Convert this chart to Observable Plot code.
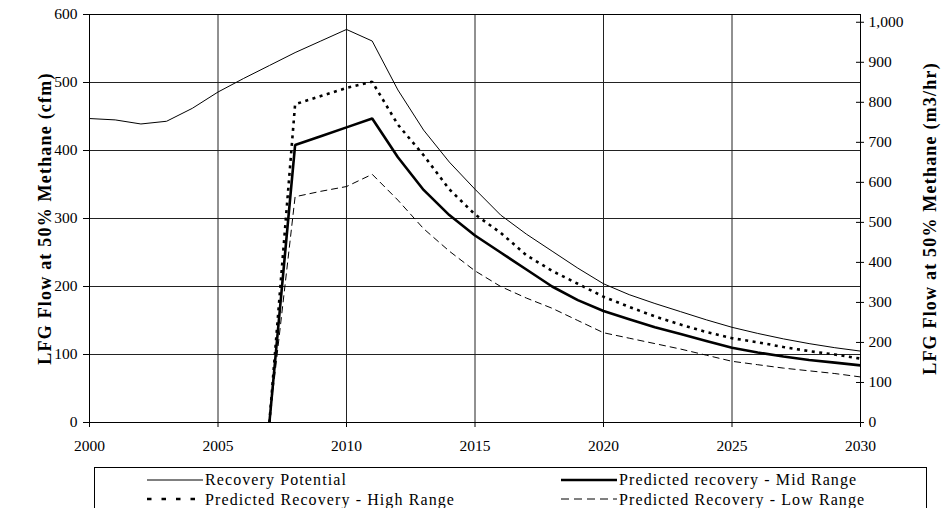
<!DOCTYPE html>
<html><head><meta charset="utf-8">
<script src="https://cdn.jsdelivr.net/npm/d3@7"></script>
<script src="https://cdn.jsdelivr.net/npm/@observablehq/plot@0.6"></script>
<style>
body{margin:0;background:#fff;overflow:hidden}
#wrap{position:relative;width:947px;height:508px;overflow:hidden;background:#fff}
#legend{position:absolute;left:94px;top:467px;width:833px;height:60px;border:1px solid #000;box-sizing:border-box;font-family:"Liberation Serif","Times New Roman",Tinos,"DejaVu Serif",serif;font-size:16px;line-height:15px;letter-spacing:1.1px;color:#000}
#legend .item{position:absolute;display:flex;align-items:center;height:15px;white-space:nowrap}
#legend svg{display:block;margin-right:2px}
#chart svg text{font-family:"Liberation Serif","Times New Roman",Tinos,"DejaVu Serif",serif}
#chart g[aria-label="text"] text{letter-spacing:1.2px}
</style></head><body><div id="wrap"><div id="chart"></div><div id="legend"></div></div>
<script>
// ---- data (cfm at 50% methane) ----
const years = [2000,2001,2002,2003,2004,2005,2006,2007,2008,2009,2010,2011,2012,2013,2014,2015,2016,2017,2018,2019,2020,2021,2022,2023,2024,2025,2026,2027,2028,2029,2030];
const recoveryPotential = [447,445,439,443,462,486,506,525,544,561,578,561,489,430,383,343,305,277,252,227,204,188,175,163,151,140,131,123,116,110,105];
const predYears = [2007,2008,2009,2010,2011,2012,2013,2014,2015,2016,2017,2018,2019,2020,2021,2022,2023,2024,2025,2026,2027,2028,2029,2030];
const midRange  = [0,408,421,434,447,390,342,305,275,250,225,200,180,164,152,140,130,120,110,103,97,92,88,84];
const highRange = [0,468,480,492,501,438,393,343,306,279,246,223,204,185,170,156,144,133,124,118,111,105,100,94];
const lowRange  = [0,332,340,347,365,327,285,252,223,200,183,168,150,132,124,116,108,99,90,85,80,76,72,67];
const seriesNames = ["Recovery Potential","Predicted recovery - Mid Range","Predicted Recovery - High Range","Predicted Recovery - Low Range"];
const xTicks = [2000,2005,2010,2015,2020,2025,2030];
const yTicksLeft = [0,100,200,300,400,500,600];
const yTicksRight = [0,100,200,300,400,500,600,700,800,900,1000]; // m3/hr
const cfmToM3hr = 1.699;
const leftTitle = "LFG Flow at 50% Methane (cfm)";
const rightTitle = "LFG Flow at 50% Methane (m3/hr)";

const styles = [
  {strokeWidth:1, dash:null, legendDash:null},
  {strokeWidth:2.6, dash:null, legendDash:null},
  {strokeWidth:2.6, dash:"3,4.5", legendDash:"4.5,10"},
  {strokeWidth:1, dash:"7,4", legendDash:"8,5"}
];

const rows = [];
years.forEach((y,i)=>rows.push({year:y, value:recoveryPotential[i], s:seriesNames[0]}));
const predSets = [midRange, highRange, lowRange];
predSets.forEach((arr,k)=>predYears.forEach((y,i)=>rows.push({year:y, value:arr[i], s:seriesNames[k+1]})));

const rightPos = yTicksRight.map(m => m / cfmToM3hr);
const W = 947, H = 462, ML = 89, MR = 87, MT = 14, MB = 40;
const frameW = W - ML - MR;
const FONT = "'Liberation Serif','Times New Roman',Tinos,'DejaVu Serif',serif";

const lineMarks = seriesNames.map((name,k)=>Plot.line(rows.filter(d=>d.s===name), {
  x:"year", y:"value", stroke:"#000", strokeWidth:styles[k].strokeWidth,
  strokeDasharray:styles[k].dash, strokeLinejoin:"miter", strokeLinecap:"butt"
}));

const chart = Plot.plot({
  width: W, height: H,
  marginLeft: ML, marginRight: MR, marginTop: MT, marginBottom: MB,
  style: {fontFamily:FONT, fontSize:"15.5px", color:"#000", background:"#fff"},
  x: {domain:[2000,2030], label:null},
  y: {domain:[0,600], label:null},
  marks: [
    Plot.gridY(yTicksLeft, {stroke:"#222", strokeOpacity:1, strokeWidth:1}),
    Plot.gridX(xTicks, {stroke:"#222", strokeOpacity:1, strokeWidth:1}),
    Plot.frame({stroke:"#000", strokeWidth:1}),
    Plot.axisY(yTicksLeft, {anchor:"left", tickSize:6, tickPadding:6, label:null, stroke:"#000", fontSize:15.5}),
    Plot.axisX(xTicks, {anchor:"bottom", tickSize:5, tickPadding:12, tickFormat:d=>String(d), label:null, stroke:"#000", fontSize:15.5}),
    Plot.axisY(rightPos, {anchor:"right", tickSize:0, tickPadding:8, label:null, fontSize:15.5, tickFormat:d=>d3.format(",")(Math.round(d*cfmToM3hr))}),
    Plot.ruleY(rightPos, {y:d=>d, insetLeft: frameW-4, insetRight:-4, stroke:"#000"}),
    ...lineMarks,
    Plot.text([leftTitle], {frameAnchor:"left", textAnchor:"middle", rotate:-90, dx:-44, fontWeight:"bold", fontSize:18, text:d=>d}),
    Plot.text([rightTitle], {frameAnchor:"right", textAnchor:"middle", rotate:-90, dx:70, fontWeight:"bold", fontSize:18, text:d=>d})
  ]
});
document.getElementById("chart").appendChild(chart);

// legend
const legend = document.getElementById("legend");
const pos = [
  {left:52, top:4, w:56},
  {left:466, top:4, w:56},
  {left:52, top:23.5, w:56},
  {left:466, top:23.5, w:56}
];
seriesNames.forEach((name,k)=>{
  const it = document.createElement("div");
  it.className="item";
  it.style.left = pos[k].left+"px"; it.style.top = pos[k].top+"px";
  const st = styles[k];
  it.innerHTML = `<svg width="${pos[k].w}" height="8"><line x1="0" x2="${pos[k].w}" y1="4" y2="4" stroke="#000" stroke-width="${st.strokeWidth}" ${st.legendDash?`stroke-dasharray="${st.legendDash}"`:""}/></svg><span>${name}</span>`;
  legend.appendChild(it);
});
</script></body></html>
